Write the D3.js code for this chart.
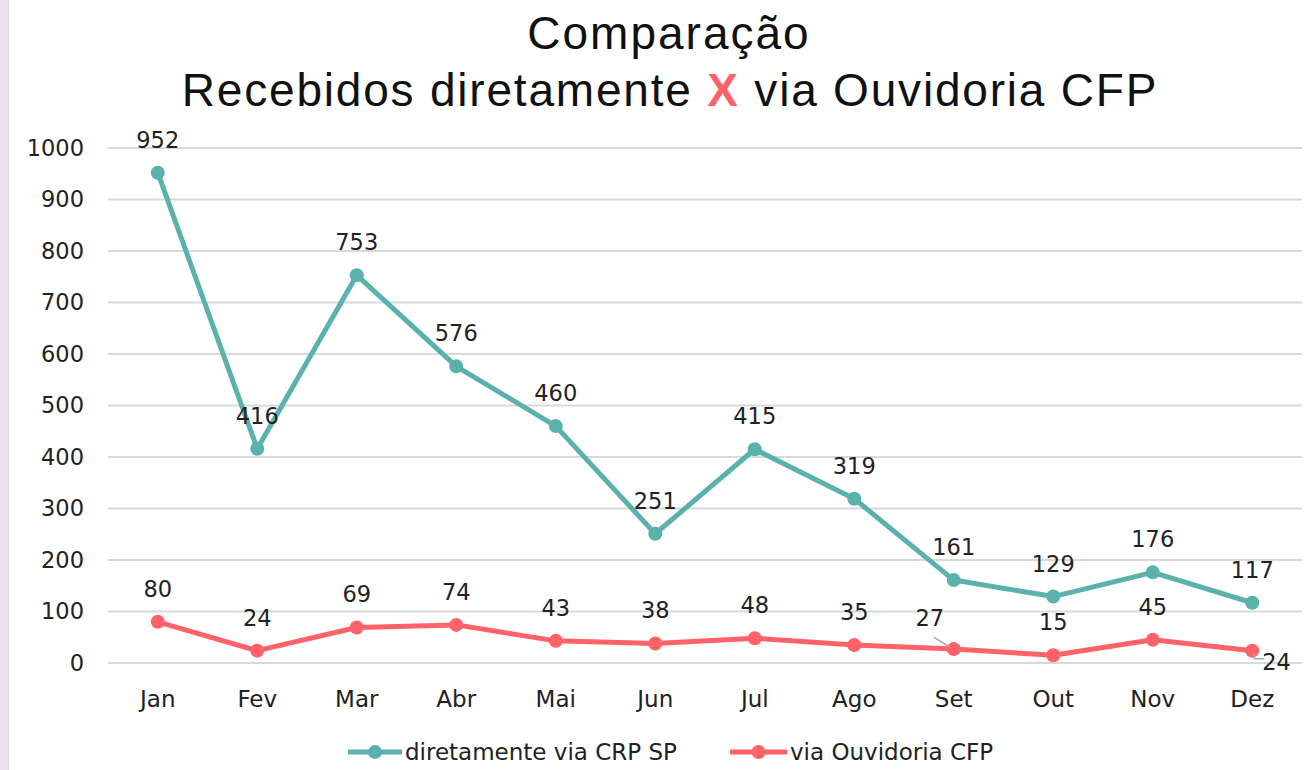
<!DOCTYPE html>
<html><head><meta charset="utf-8">
<script src="https://cdn.jsdelivr.net/npm/d3@7"></script>
<style>body{margin:0;background:#fff;}svg{display:block;}</style>
</head><body>
<svg id="c" width="1308" height="770"></svg>
<script>
const months = ["Jan","Fev","Mar","Abr","Mai","Jun","Jul","Ago","Set","Out","Nov","Dez"];
const crpSP = [952,416,753,576,460,251,415,319,161,129,176,117];
const ouvCFP = [80,24,69,74,43,38,48,35,27,15,45,24];
const yTicks = [0,100,200,300,400,500,600,700,800,900,1000];
const seriesNames = ["diretamente via CRP SP","via Ouvidoria CFP"];
const colors = ["#5bb2ad","#ff6269"];

const svg = d3.select("#c");
const F = "'DejaVu Sans', sans-serif";
const TF = "'Liberation Sans', Arial, sans-serif";
svg.append("rect").attr("x",0).attr("y",0).attr("width",8).attr("height",770).attr("fill","#ede1f0");
svg.append("line").attr("x1",8.5).attr("x2",8.5).attr("y1",0).attr("y2",770).attr("stroke","#e2d8e6").attr("stroke-width",1);

// title
svg.append("text").attr("x",669).attr("y",49).attr("text-anchor","middle")
  .attr("font-family",TF).attr("font-size",46).attr("letter-spacing",2).attr("fill","#111").text("Comparação");
const t2 = svg.append("text").attr("x",670).attr("y",106).attr("text-anchor","middle")
  .attr("font-family",TF).attr("font-size",46).attr("letter-spacing",1.8).attr("fill","#111");
t2.append("tspan").text("Recebidos diretamente ");
t2.append("tspan").attr("fill","#ff6269").attr("font-weight","bold").text("X");
t2.append("tspan").text(" via Ouvidoria CFP");

const x = d3.scaleBand().domain(months).range([108,1302]);
const y = d3.scaleLinear().domain([0,1000]).range([663,148]);
const cx = m => x(m) + x.bandwidth()/2;

// grid
svg.append("g").selectAll("line").data(yTicks).join("line")
  .attr("x1",108).attr("x2",1302).attr("y1",d=>y(d)).attr("y2",d=>y(d))
  .attr("stroke","#d9d9d9").attr("stroke-width",2);

// y axis labels
const ya = svg.append("g").attr("transform","translate(84,0)")
  .call(d3.axisLeft(y).tickValues(yTicks).tickFormat(d3.format("d")).tickSize(0).tickPadding(0));
ya.select(".domain").remove();
ya.selectAll("text").attr("font-family",F).attr("font-size",22.5).attr("fill","#222");

// x axis labels
const xa = svg.append("g").attr("transform","translate(0,686)")
  .call(d3.axisBottom(x).tickSize(0).tickPadding(0));
xa.select(".domain").remove();
xa.selectAll("text").attr("font-family",F).attr("font-size",23).attr("fill","#222").attr("dy","0.9em");

const line = d3.line().x((d,i)=>cx(months[i])).y(d=>y(d));
[crpSP, ouvCFP].forEach((vals,si)=>{
  svg.append("path").datum(vals).attr("d",line).attr("fill","none")
    .attr("stroke",colors[si]).attr("stroke-width",5).attr("stroke-linejoin","round");
  svg.append("g").selectAll("circle").data(vals).join("circle")
    .attr("cx",(d,i)=>cx(months[i])).attr("cy",d=>y(d)).attr("r",7).attr("fill",colors[si]);
});

// labels
function addLabel(v,i,dx,dy,anchor){
  svg.append("text").attr("x",cx(months[i])+dx).attr("y",y(v)+dy).attr("text-anchor",anchor||"middle")
    .attr("font-family",F).attr("font-size",22.5).attr("fill","#222").text(v);
}
crpSP.forEach((v,i)=>addLabel(v,i,0,-25));
ouvCFP.forEach((v,i)=>{
  if(months[i]==="Set"){
    addLabel(v,i,-24,-23);
    svg.append("line").attr("x1",cx(months[i])-20).attr("y1",y(v)-12).attr("x2",cx(months[i])-4).attr("y2",y(v)-2)
      .attr("stroke","#a6a6a6").attr("stroke-width",1.5);
  } else if(months[i]==="Dez"){
    addLabel(v,i,10,19,"start");
    svg.append("polyline").attr("points",[[cx(months[i])+2,y(v)+3],[cx(months[i])+2,y(v)+8],[cx(months[i])+12,y(v)+8]].map(p=>p.join(",")).join(" "))
      .attr("fill","none").attr("stroke","#a6a6a6").attr("stroke-width",1.5);
  } else addLabel(v,i,0,-25);
});

// legend
const lg = [{x:348,w:54},{x:730,w:57}];
seriesNames.forEach((n,i)=>{
  const g = svg.append("g");
  g.append("line").attr("x1",lg[i].x).attr("x2",lg[i].x+lg[i].w).attr("y1",752).attr("y2",752)
    .attr("stroke",colors[i]).attr("stroke-width",5);
  g.append("circle").attr("cx",lg[i].x+lg[i].w/2).attr("cy",752).attr("r",7).attr("fill",colors[i]);
  g.append("text").attr("x",lg[i].x+lg[i].w+3).attr("y",760).attr("font-family",F).attr("font-size",23)
    .attr("fill","#222").text(n);
});
</script>
</body></html>
